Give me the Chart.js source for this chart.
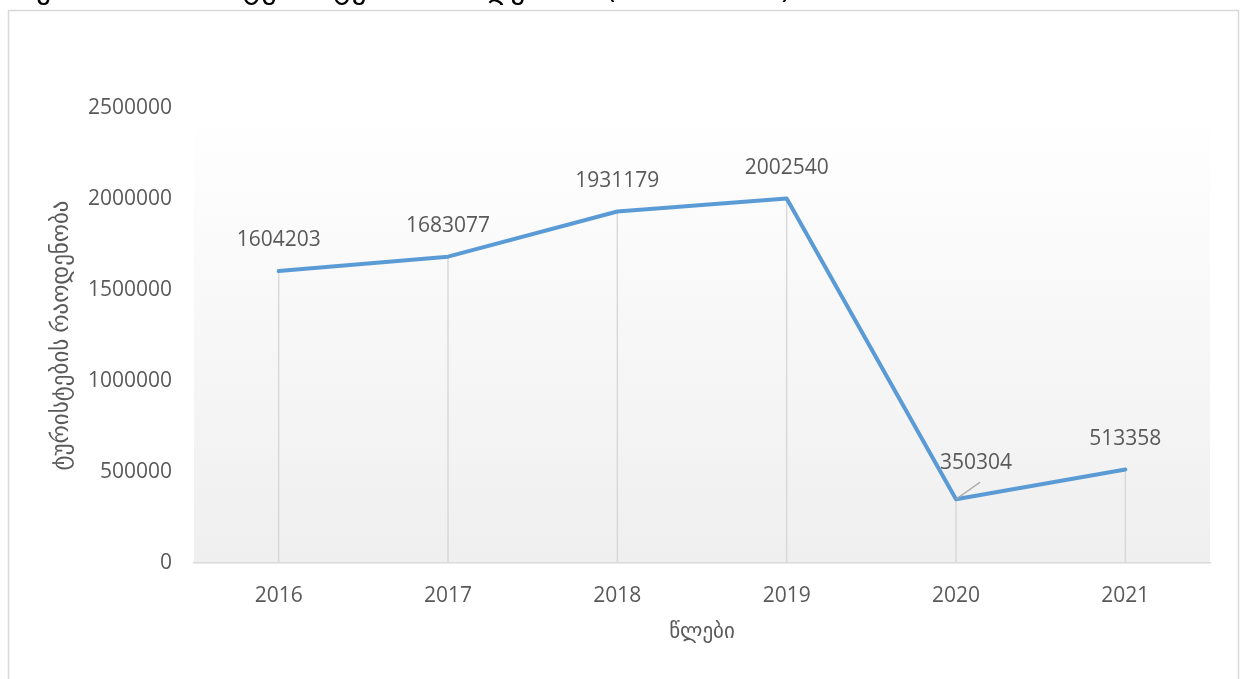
<!DOCTYPE html>
<html>
<head>
<meta charset="utf-8">
<script src="https://cdn.jsdelivr.net/npm/chart.js@4"></script>
<style>
    html, body { margin: 0; padding: 0; background: #ffffff; overflow: hidden; }
    #wrap { position: absolute; left: 0; top: 0; width: 1247px; height: 679px; }
</style>
</head>
<body>
<div id="wrap"><canvas id="chart" width="1247" height="679"></canvas></div>
<script>
const years = ["2016", "2017", "2018", "2019", "2020", "2021"];
const tourists = [1604203, 1683077, 1931179, 2002540, 350304, 513358];
const yTicks = [0, 500000, 1000000, 1500000, 2000000, 2500000];

const titleText = "საერთაშორისო ტურისტების რაოდენობა (2016-2021)";
const xTitle = "წლები";
const yTitle = "ტურისტების რაოდენობა";

const FONT = "'Open Sans', 'DejaVu Sans', sans-serif";
const TEXT = "#595959";
const LINE = "#5B9BD5";
const FAINT = "#d9d9d9";

// extras Excel draws that Chart.js doesn't: frame, plot gradient, drop lines, labels
const excelBits = {
    id: "excelBits",
    beforeDraw(chart) {
        const ctx = chart.ctx;
        const a = chart.chartArea;
        ctx.save();
        // outer frame (bottom edge falls off the picture)
        ctx.strokeStyle = FAINT;
        ctx.lineWidth = 1.5;
        ctx.strokeRect(8.5, 10.5, 1230, 720);
        // title, mostly cut off above the window
        ctx.fillStyle = "#000000";
        ctx.font = "30px 'DejaVu Sans', sans-serif";
        ctx.textBaseline = "alphabetic";
        ctx.fillText(titleText, 5, -2, 845);
        // plot area gradient
        const g = ctx.createLinearGradient(0, a.top, 0, a.bottom);
        g.addColorStop(0, "#ffffff");
        g.addColorStop(1, "#efefef");
        ctx.fillStyle = g;
        ctx.fillRect(a.left, a.top, a.right - a.left, a.bottom - a.top);
        ctx.restore();
    },
    beforeDatasetsDraw(chart) {
        const ctx = chart.ctx;
        const pts = chart.getDatasetMeta(0).data;
        ctx.save();
        ctx.strokeStyle = FAINT;
        ctx.lineWidth = 1.5;
        pts.forEach(p => {
            ctx.beginPath();
            ctx.moveTo(p.x, p.y);
            ctx.lineTo(p.x, chart.chartArea.bottom);
            ctx.stroke();
        });
        ctx.restore();
    },
    afterDatasetsDraw(chart) {
        const ctx = chart.ctx;
        const pts = chart.getDatasetMeta(0).data;
        ctx.save();
        ctx.font = "21px " + FONT;
        ctx.fillStyle = TEXT;
        ctx.textAlign = "center";
        ctx.textBaseline = "middle";
        pts.forEach((p, i) => {
            let dx = 0, dy = -31;
            if (i === 4) {
                // 2020 label moved off the line, with a leader
                dx = 20; dy = -36;
                ctx.strokeStyle = "#a6a6a6";
                ctx.lineWidth = 1.5;
                ctx.beginPath();
                ctx.moveTo(p.x, p.y);
                ctx.lineTo(p.x + 24, p.y - 17);
                ctx.stroke();
            }
            ctx.fillText(String(tourists[i]), p.x + dx, p.y + dy);
        });
        ctx.restore();
    }
};

new Chart(document.getElementById("chart"), {
    type: "line",
    data: {
        labels: years,
        datasets: [{
            data: tourists,
            borderColor: LINE,
            borderWidth: 4,
            pointRadius: 0,
            tension: 0,
            borderCapStyle: "round",
            borderJoinStyle: "round"
        }]
    },
    options: {
        responsive: false,
        animation: false,
        events: [],
        layout: { padding: { left: 44, right: 37, top: 108, bottom: 30 } },
        plugins: {
            legend: { display: false },
            title: { display: false },
            tooltip: { enabled: false }
        },
        scales: {
            x: {
                offset: true,
                grid: { display: false },
                border: { display: true, color: FAINT, width: 1.5 },
                ticks: { color: TEXT, font: { family: FONT, size: 21 }, padding: 12, maxRotation: 0 },
                title: { display: true, text: xTitle, color: TEXT, font: { family: FONT, size: 21 } },
                afterFit: s => { s.height = 86; }
            },
            y: {
                min: 0,
                max: 2500000,
                grid: { display: false, drawTicks: false },
                border: { display: false },
                afterBuildTicks: s => { s.ticks = yTicks.map(v => ({ value: v })); },
                ticks: { color: TEXT, font: { family: FONT, size: 21 }, padding: 22, callback: v => String(v) },
                title: { display: true, text: yTitle, color: TEXT, font: { family: FONT, size: 23 } },
                afterFit: s => { s.width = 150; }
            }
        }
    },
    plugins: [excelBits]
});
</script>
</body>
</html>
